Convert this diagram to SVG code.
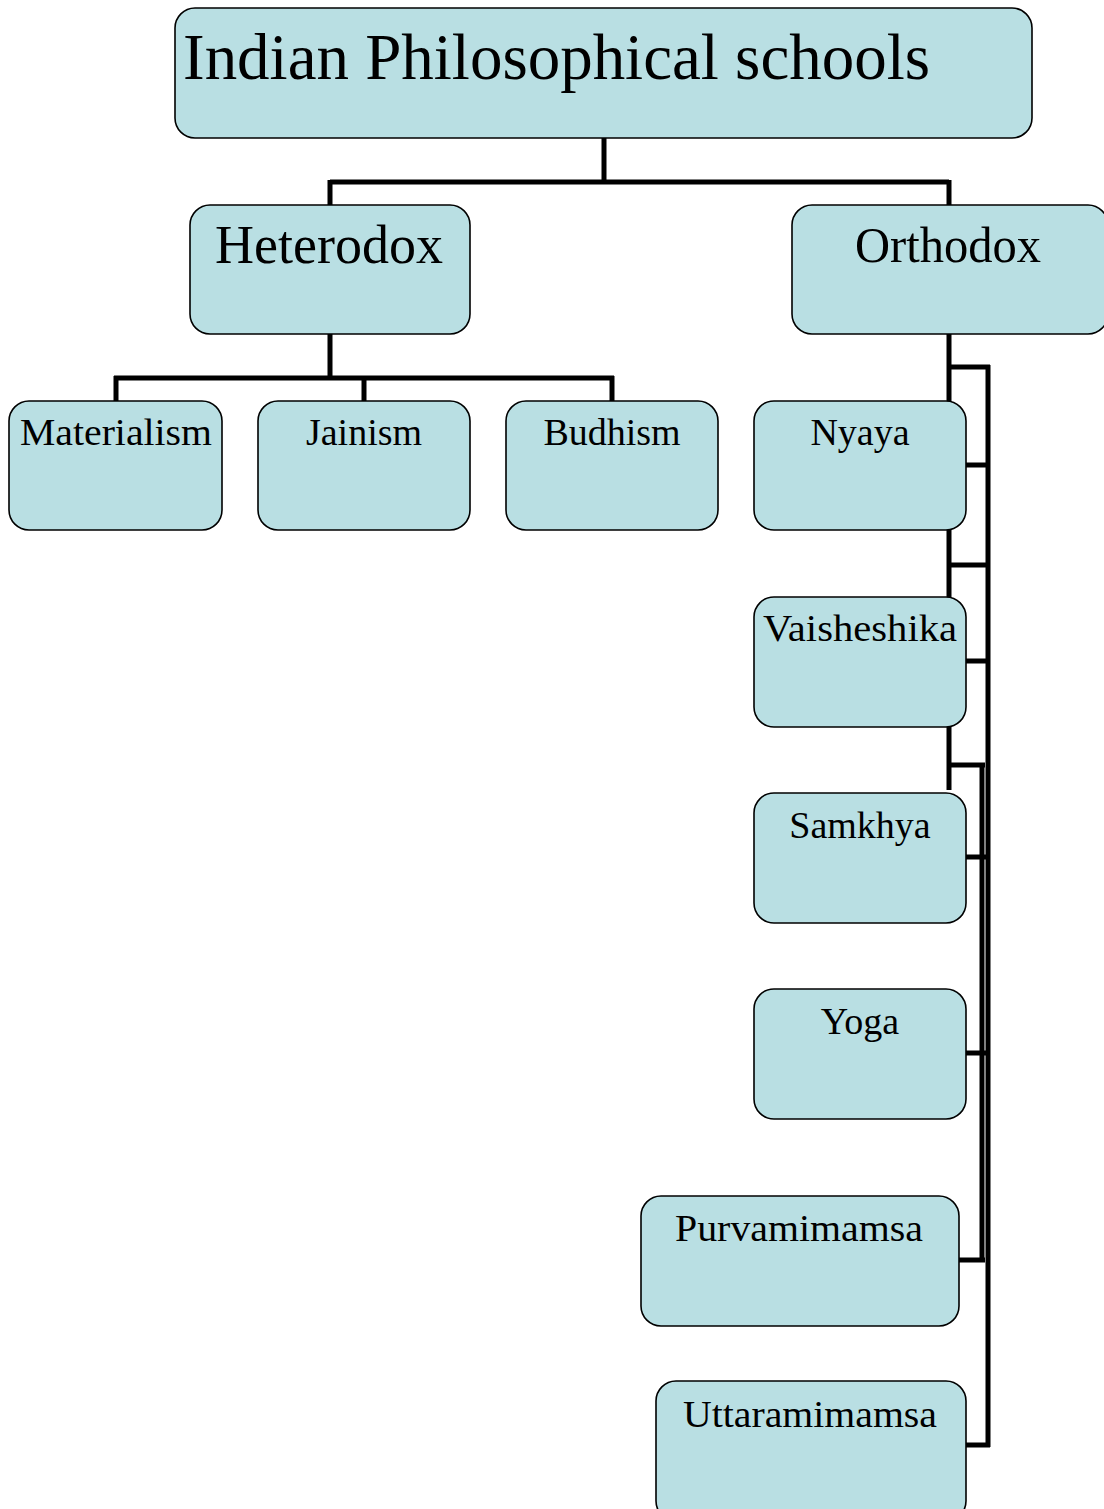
<svg xmlns="http://www.w3.org/2000/svg" width="1104" height="1509" viewBox="0 0 1104 1509">
<style>
.box{fill:#b9dfe3;stroke:#000;stroke-width:1.6}
.t{font-family:"Liberation Serif","Times New Roman",serif;fill:#000}
.s{font-size:38px;text-anchor:middle}
.c{fill:none;stroke:#000;stroke-width:5;stroke-linejoin:miter}
</style>
<rect width="1104" height="1509" fill="#fff"/>
<g id="connectors">
<path class="c" d="M604,138 V182 M330,182 H949 M330,180 V205 M949,180 V205"/>
<path class="c" d="M330,334 V378 M114,378 H614 M116,376 V401 M364,376 V401 M612,376 V401"/>
<path class="c" d="M949,334 V790 M947,367 H990 M988,365 V1447 M966,465 H990 M947,565 H990 M966,661 H990 M947,765 H985 M982,763 V1262 M966,857 H990 M966,1053 H990 M959,1260 H985 M966,1445 H990"/>
</g>
<g id="root"><rect class="box" x="175" y="8" width="857" height="130" rx="20"/><text class="t" x="183" y="79" font-size="66" textLength="747" lengthAdjust="spacingAndGlyphs">Indian Philosophical schools</text></g>
<g id="heterodox"><rect class="box" x="190" y="205" width="280" height="129" rx="20"/><text class="t" x="215" y="263" font-size="54" textLength="228" lengthAdjust="spacingAndGlyphs">Heterodox</text></g>
<g id="orthodox"><rect class="box" x="792" y="205" width="316" height="129" rx="20"/><text class="t" x="855" y="262" font-size="50" textLength="186" lengthAdjust="spacingAndGlyphs">Orthodox</text></g>
<g id="materialism"><rect class="box" x="9" y="401" width="213" height="129" rx="20"/><text class="t" x="20" y="445" font-size="38" textLength="192" lengthAdjust="spacingAndGlyphs">Materialism</text></g>
<g id="jainism"><rect class="box" x="258" y="401" width="212" height="129" rx="20"/><text class="t s" x="364" y="445">Jainism</text></g>
<g id="budhism"><rect class="box" x="506" y="401" width="212" height="129" rx="20"/><text class="t s" x="612" y="445">Budhism</text></g>
<g id="nyaya"><rect class="box" x="754" y="401" width="212" height="129" rx="20"/><text class="t s" x="860" y="445">Nyaya</text></g>
<g id="vaisheshika"><rect class="box" x="754" y="597" width="212" height="130" rx="20"/><text class="t" x="763" y="641" font-size="38" textLength="194" lengthAdjust="spacingAndGlyphs">Vaisheshika</text></g>
<g id="samkhya"><rect class="box" x="754" y="793" width="212" height="130" rx="20"/><text class="t s" x="860" y="838">Samkhya</text></g>
<g id="yoga"><rect class="box" x="754" y="989" width="212" height="130" rx="20"/><text class="t s" x="860" y="1034">Yoga</text></g>
<g id="purvamimamsa"><rect class="box" x="641" y="1196" width="318" height="130" rx="20"/><text class="t" x="675" y="1241" font-size="38" textLength="248" lengthAdjust="spacingAndGlyphs">Purvamimamsa</text></g>
<g id="uttaramimamsa"><rect class="box" x="656" y="1381" width="310" height="140" rx="20"/><text class="t" x="683" y="1427" font-size="38" textLength="254" lengthAdjust="spacingAndGlyphs">Uttaramimamsa</text></g>
</svg>
